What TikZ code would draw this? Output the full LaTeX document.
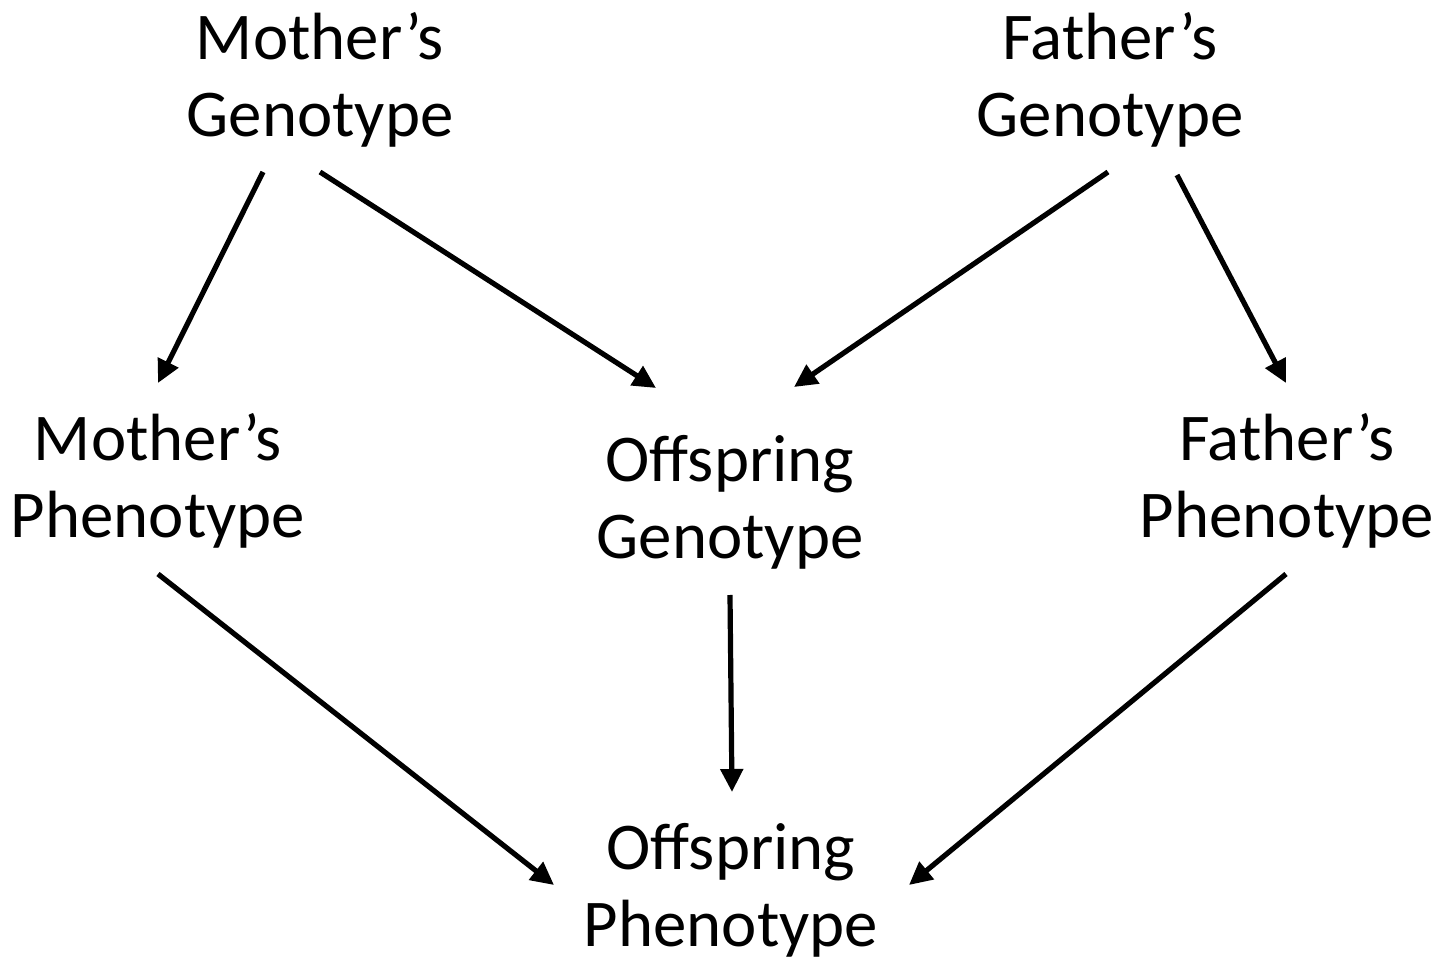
\documentclass[tikz,border=0pt]{standalone}
\usepackage{fontspec}
\setmainfont{Carlito}
\usetikzlibrary{arrows.meta}
\begin{document}
\begin{tikzpicture}[x=0.5pt,y=-0.5pt,
  lbl/.style={align=center,inner sep=0pt,font=\fontsize{33.4pt}{38.5pt}\selectfont},
  arr/.style={line width=2.6pt,-{Triangle[length=11.5pt,width=11pt]}}]
\useasboundingbox (0,0) rectangle (1452,957);
\node[lbl] (mg) at (320,80) {Mother’s\\Genotype};
\node[lbl] (fg) at (1110,80) {Father’s\\Genotype};
\node[lbl] (mp) at (158,481) {Mother’s\\Phenotype};
\node[lbl] (og) at (730,502) {Offspring\\Genotype};
\node[lbl] (fp) at (1287,481) {Father’s\\Phenotype};
\node[lbl] (op) at (731,890) {Offspring\\Phenotype};
% connector end points, placed next to their nodes
\coordinate (mg-l) at (263,172);
\coordinate (mg-r) at (320,172);
\coordinate (fg-l) at (1108,172);
\coordinate (fg-r) at (1177,175);
\coordinate (mp-t) at (158,383);
\coordinate (mp-b) at (158,574);
\coordinate (og-tl) at (656,388);
\coordinate (og-tr) at (794,387);
\coordinate (og-b) at (730,595);
\coordinate (fp-t) at (1286,383);
\coordinate (fp-b) at (1286,574);
\coordinate (op-l) at (554,885);
\coordinate (op-t) at (732,792);
\coordinate (op-r) at (909,885);
\draw[arr] (mg-l) -- (mp-t);
\draw[arr] (mg-r) -- (og-tl);
\draw[arr] (fg-l) -- (og-tr);
\draw[arr] (fg-r) -- (fp-t);
\draw[arr] (mp-b) -- (op-l);
\draw[arr] (og-b) -- (op-t);
\draw[arr] (fp-b) -- (op-r);
\end{tikzpicture}
\end{document}
